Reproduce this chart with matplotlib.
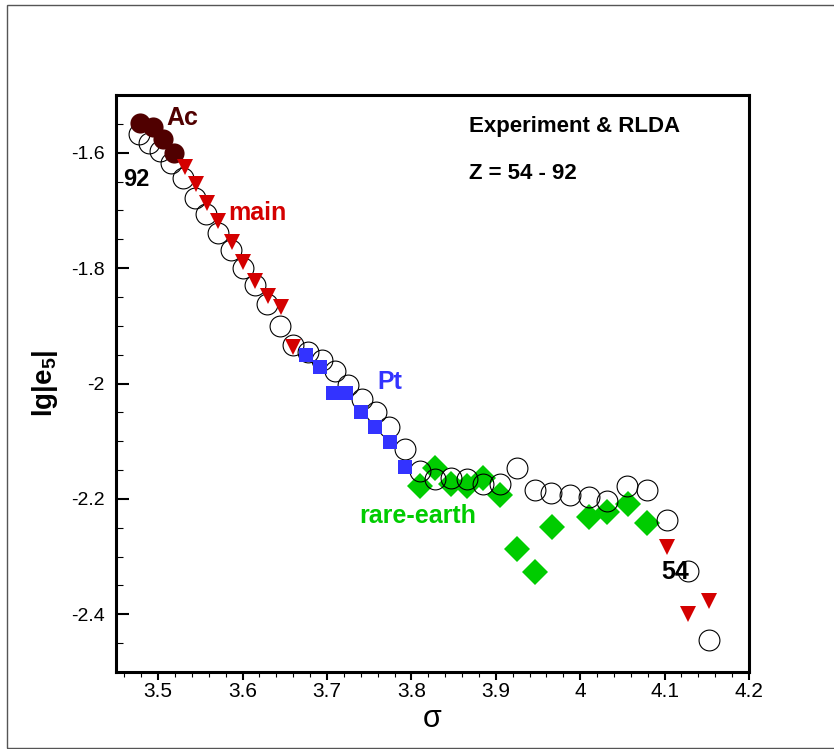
import matplotlib
matplotlib.use('Agg')
import matplotlib.pyplot as plt
from matplotlib.patches import Rectangle
from matplotlib.ticker import MultipleLocator, FixedLocator

plt.rcParams['font.family'] = ['Liberation Sans', 'DejaVu Sans']
plt.rcParams['mathtext.fontset'] = 'custom'
plt.rcParams['mathtext.rm'] = 'Liberation Sans'
plt.rcParams['mathtext.bf'] = 'Liberation Sans:bold'

# RLDA (open circles), Z = 92 ... 54
rlda_x = [3.4775, 3.4893, 3.5024, 3.5154, 3.5296, 3.5438, 3.5569, 3.5711, 3.5865, 3.6007,
          3.6149, 3.6291, 3.6445, 3.6600, 3.6777, 3.6943, 3.7097, 3.7251, 3.7417, 3.7583,
          3.7737, 3.7927, 3.8104, 3.8282, 3.8472, 3.8661, 3.8851, 3.9052, 3.9254, 3.9467,
          3.9656, 3.9882, 4.0107, 4.0320, 4.0557, 4.0794, 4.1031, 4.1280, 4.1528]
rlda_y = [-1.567, -1.583, -1.597, -1.617, -1.643, -1.678, -1.707, -1.739, -1.768, -1.799,
          -1.829, -1.863, -1.900, -1.934, -1.946, -1.960, -1.979, -2.002, -2.026, -2.050,
          -2.076, -2.114, -2.152, -2.165, -2.163, -2.166, -2.175, -2.175, -2.147, -2.184,
          -2.189, -2.194, -2.197, -2.203, -2.177, -2.185, -2.237, -2.325, -2.445]

# experiment groups
ac_x = [3.4787, 3.4941, 3.5059, 3.5190]
ac_y = [-1.548, -1.555, -1.577, -1.600]

main_x = [3.5320, 3.5450, 3.5581, 3.5711, 3.5877, 3.6007, 3.6149, 3.6303, 3.6457, 3.6600,
          4.1031, 4.1280, 4.1528]
main_y = [-1.624, -1.655, -1.687, -1.718, -1.754, -1.790, -1.823, -1.848, -1.868, -1.936,
          -2.284, -2.400, -2.377]

pt_x = [3.6754, 3.6919, 3.7073, 3.7227, 3.7405, 3.7571, 3.7749, 3.7927]
pt_y = [-1.950, -1.972, -2.017, -2.017, -2.050, -2.076, -2.102, -2.144]

re_x = [3.8104, 3.8282, 3.8472, 3.8661, 3.8851, 3.9052, 3.9254, 3.9467, 3.9668, 4.0107,
        4.0320, 4.0569, 4.0794]
re_y = [-2.178, -2.147, -2.175, -2.177, -2.163, -2.194, -2.286, -2.327, -2.249, -2.232,
        -2.223, -2.208, -2.241]

x_ticks = [3.5, 3.6, 3.7, 3.8, 3.9, 4.0, 4.1, 4.2]
x_labels = ['3.5', '3.6', '3.7', '3.8', '3.9', '4', '4.1', '4.2']
y_ticks = [-1.6, -1.8, -2.0, -2.2, -2.4]
y_labels = ['-1.6', '-1.8', '-2', '-2.2', '-2.4']

c_ac = '#500000'
c_main = '#d40000'
c_pt = '#3333ff'
c_re = '#00cc00'

fig = plt.figure(figsize=(8.34, 7.49), dpi=100)
fig.patches.append(Rectangle((7 / 834, 1 / 749), 1.0, 743 / 749, transform=fig.transFigure,
                             fill=False, edgecolor='#555555', linewidth=1.0))
ax = fig.add_axes([116 / 834, 1 - 672 / 749, (749 - 116) / 834, (672 - 95) / 749])

ax.plot(re_x, re_y, 'D', color=c_re, markersize=13, markeredgewidth=0, zorder=2)
ax.plot(rlda_x, rlda_y, 'o', markerfacecolor='none', markeredgecolor='black',
        markeredgewidth=0.8, markersize=15, zorder=3)
ax.plot(ac_x, ac_y, 'o', color=c_ac, markersize=14.5, markeredgewidth=0, zorder=4)
ax.plot(main_x, main_y, 'v', color=c_main, markersize=11.5, markeredgewidth=0, zorder=4)
ax.plot(pt_x, pt_y, 's', color=c_pt, markersize=10, markeredgewidth=0, zorder=4)

ax.set_xlim(3.45, 4.2)
ax.set_ylim(-2.5, -1.5)
ax.xaxis.set_major_locator(FixedLocator(x_ticks))
ax.set_xticklabels(x_labels)
ax.xaxis.set_minor_locator(MultipleLocator(0.02))
ax.yaxis.set_major_locator(FixedLocator(y_ticks))
ax.set_yticklabels(y_labels)
ax.yaxis.set_minor_locator(MultipleLocator(0.05))

ax.tick_params(axis='x', which='major', direction='out', length=5.5, width=1.5,
               labelsize=15, pad=2)
ax.tick_params(axis='x', which='minor', direction='out', length=3.5, width=0.8)
ax.tick_params(axis='y', which='major', direction='in', length=9, width=1.5,
               labelsize=14, pad=8)
ax.tick_params(axis='y', which='minor', direction='in', length=5, width=0.8)
for s in ax.spines.values():
    s.set_linewidth(2.2)

ax.set_xlabel('σ', fontsize=22, labelpad=2)
ax.set_ylabel(r'lg|e$_{\mathbf{5}}$|', fontsize=20, fontweight='bold', labelpad=8)

ax.text(3.5095, -1.539, 'Ac', color=c_ac, fontsize=18, fontweight='bold', va='center')
ax.text(3.4585, -1.647, '92', color='black', fontsize=17, fontweight='bold', va='center')
ax.text(3.583, -1.704, 'main', color=c_main, fontsize=18, fontweight='bold', va='center')
ax.text(3.7595, -1.998, 'Pt', color=c_pt, fontsize=18, fontweight='bold', va='center')
ax.text(3.738, -2.229, 'rare-earth', color=c_re, fontsize=18, fontweight='bold', va='center')
ax.text(4.096, -2.326, '54', color='black', fontsize=18, fontweight='bold', va='center')
ax.text(3.8685, -1.555, 'Experiment & RLDA', color='black', fontsize=16, fontweight='bold',
        va='center')
ax.text(3.8685, -1.636, 'Z = 54 - 92', color='black', fontsize=16, fontweight='bold',
        va='center')

fig.savefig('out.png', dpi=100)
